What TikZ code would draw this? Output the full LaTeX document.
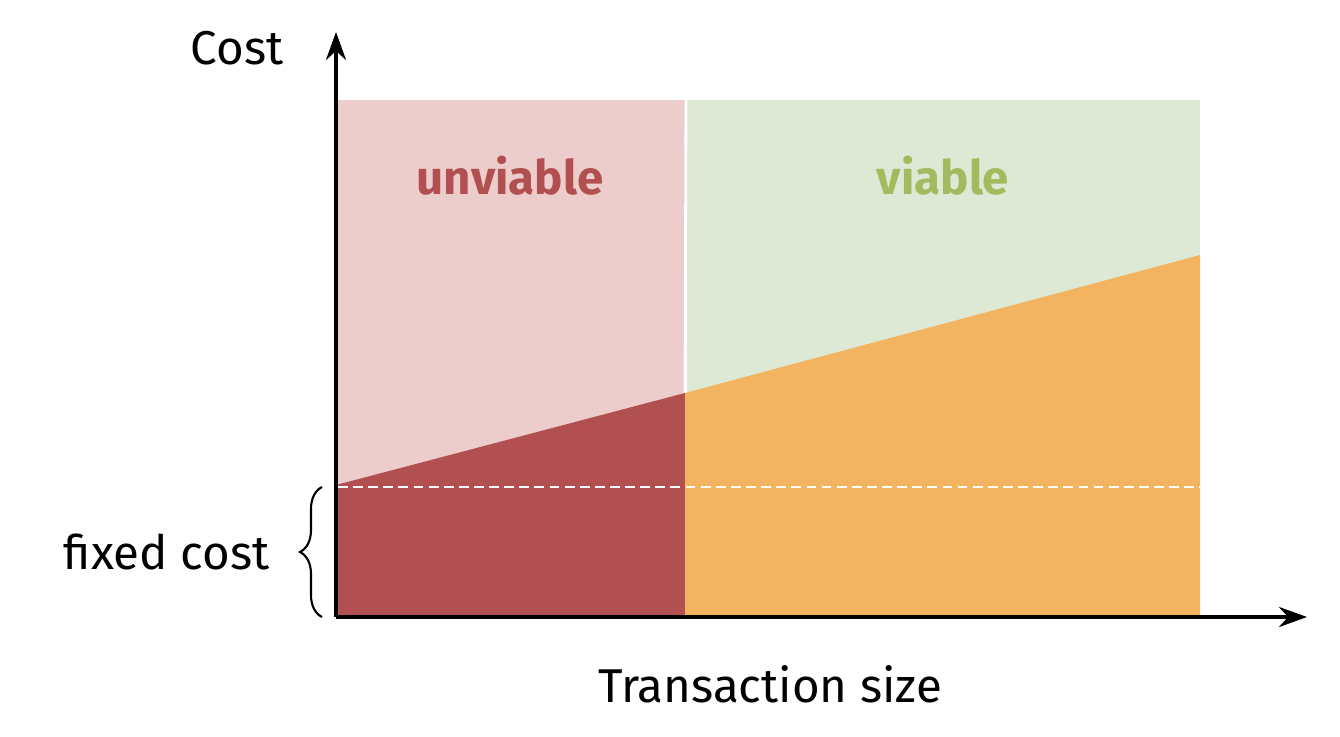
\documentclass[tikz,border=0pt]{standalone}
\usepackage{fontspec}
\setmainfont{Fira Sans}
\usetikzlibrary{arrows.meta,decorations.pathreplacing}
\definecolor{redlight}{HTML}{EDCDCC}
\definecolor{reddark}{HTML}{B24F50}
\definecolor{greenlight}{HTML}{DDE9D5}
\definecolor{greendark}{HTML}{A5BA5F}
\definecolor{orangefill}{HTML}{F3B461}
\tikzset{
  axis/.style={line width=1.15pt,-{Stealth[length=0.28cm,width=0.2cm]}},
  label/.style={font=\fontsize{13.5}{16}\selectfont},
  region/.style={font=\bfseries\fontsize{13.5}{16}\selectfont}
}
\begin{document}
\begin{tikzpicture}
\useasboundingbox (-3.36,-1.19) rectangle (10.04,6.17);
\coordinate (O) at (0,0);
\coordinate (Y) at (0,5.85);
\coordinate (X) at (9.71,0);
\coordinate (F) at (0,1.32);
\coordinate (M) at (3.49,2.24);
\coordinate (E) at (8.64,3.62);

% background regions
\fill[redlight] (0,0) rectangle (3.49,5.17);
\fill[greenlight] (3.51,0) rectangle (8.64,5.17);
\draw[white,line width=0.8pt] (3.50,5.17) -- (M);

% cost areas
\fill[reddark] (O) -- (F) -- (M) -- (3.51,0) -- cycle;
\fill[orangefill] (3.49,0) -- (M) -- (E) -- (8.64,0) -- cycle;
\draw[white,line width=0.7pt,dash pattern=on 2.8pt off 1.5pt] (0.02,1.30) -- (8.64,1.30);

\node[region,text=reddark] (unv) at (1.74,4.41) {unviable};
\node[region,text=greendark] (via) at (6.07,4.41) {viable};

% axes
\draw[axis] (O) -- (Y);
\draw[axis] (O) -- (X);
\node[label] (cost) at (-0.99,5.69) {Cost};
\node[label] (size) at (4.34,-0.67) {Transaction size};

% fixed cost
\coordinate (B1) at (-0.14,0);
\coordinate (B2) at (-0.14,1.30);
\draw[decorate,decoration={brace,amplitude=0.22cm},line width=0.6pt] (B1) -- (B2);
\node[label,anchor=east,inner sep=0pt] (fixed) at (-0.66,0.65) {fixed cost};
\end{tikzpicture}
\end{document}
